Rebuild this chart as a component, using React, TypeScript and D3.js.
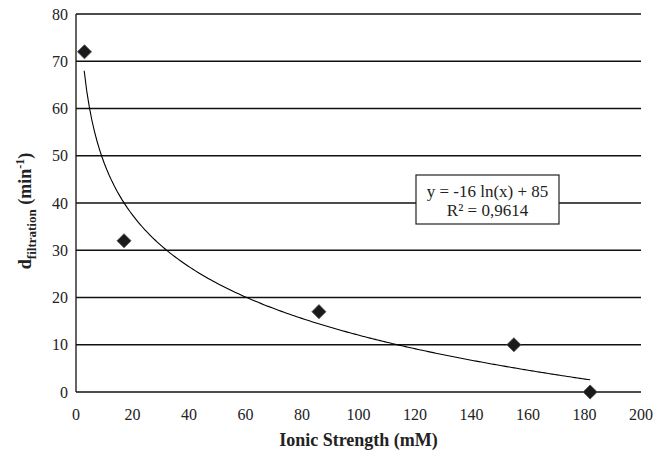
import React from 'react';
import * as d3 from 'd3';

// measured points (ionic strength in mM, d_filtration in min^-1)
const ionicStrength = [3, 17, 86, 155, 182];
const dFiltration = [72, 32, 17, 10, 0];

// logarithmic trend line y = a ln(x) + b
const trendA = -15.8;
const trendB = 84.8;
const trendRange: [number, number] = [2.9, 182];

const xTicks = [0, 20, 40, 60, 80, 100, 120, 140, 160, 180, 200];
const yTicks = [0, 10, 20, 30, 40, 50, 60, 70, 80];

const width = 669;
const height = 454;
const margin = { top: 14, right: 28, bottom: 62, left: 76 };
const font = '"Liberation Serif", "Times New Roman", serif';
const ink = '#222';

const x = d3.scaleLinear().domain([0, 200]).range([margin.left, width - margin.right]);
const y = d3.scaleLinear().domain([0, 80]).range([height - margin.bottom, margin.top]);

const App: React.FC = () => {
  const curveX = d3.range(0, 201).map(i => trendRange[0] + (trendRange[1] - trendRange[0]) * i / 200);
  const line = d3.line<number>()
    .x(d => x(d))
    .y(d => y(trendA * Math.log(d) + trendB));
  const diamond = d3.symbol().type(d3.symbolSquare).size(100)() as string;
  const points = ionicStrength.map((v, i) => ({ x: v, y: dFiltration[i] }));

  return (
    <svg
      width={width}
      height={height}
      viewBox={`0 0 ${width} ${height}`}
      style={{ position: 'absolute', left: 0, top: 0, background: '#fff', fontFamily: font }}
    >
      {/* horizontal grid */}
      {yTicks.map(t => (
        <line key={t} x1={x(0)} x2={x(200)} y1={y(t)} y2={y(t)} stroke="#111" strokeWidth={1.3} />
      ))}
      <line x1={x(0)} x2={x(0)} y1={y(0)} y2={y(80)} stroke="#111" strokeWidth={1.3} />

      {/* tick labels */}
      {yTicks.map(t => (
        <text key={t} x={x(0) - 8} y={y(t)} dy="0.35em" textAnchor="end" fontSize={16} fill={ink}>
          {t}
        </text>
      ))}
      {xTicks.map(t => (
        <text key={t} x={x(t)} y={420} textAnchor="middle" fontSize={16} fill={ink}>
          {t}
        </text>
      ))}

      {/* trend curve */}
      <path d={line(curveX) ?? ''} fill="none" stroke="#000" strokeWidth={1.1} />

      {/* diamonds */}
      {points.map((p, i) => (
        <path
          key={i}
          d={diamond}
          transform={`translate(${x(p.x)},${y(p.y)}) rotate(45)`}
          fill="#1a1a1a"
          stroke="#555"
          strokeWidth={0.8}
        />
      ))}

      {/* equation box */}
      <rect x={416} y={175} width={143} height={49} fill="#fff" stroke={ink} strokeWidth={1.2} />
      <text x={487.5} y={197} textAnchor="middle" fontSize={17} fill={ink}>y = -16 ln(x) + 85</text>
      <text x={487.5} y={216} textAnchor="middle" fontSize={17} fill={ink}>R² = 0,9614</text>

      {/* axis titles */}
      <text
        x={(x(0) + x(200)) / 2}
        y={446}
        textAnchor="middle"
        fontSize={18}
        fontWeight="bold"
        fill={ink}
      >
        Ionic Strength (mM)
      </text>
      <text
        transform="translate(31,211) rotate(-90)"
        textAnchor="middle"
        fontSize={18}
        fontWeight="bold"
        fill={ink}
      >
        <tspan>d</tspan>
        <tspan fontSize={13} dy={5}>filtration</tspan>
        <tspan dy={-5}> (min</tspan>
        <tspan fontSize={12} dy={-7}>-1</tspan>
        <tspan dy={7}>)</tspan>
      </text>
    </svg>
  );
};

export default App;
